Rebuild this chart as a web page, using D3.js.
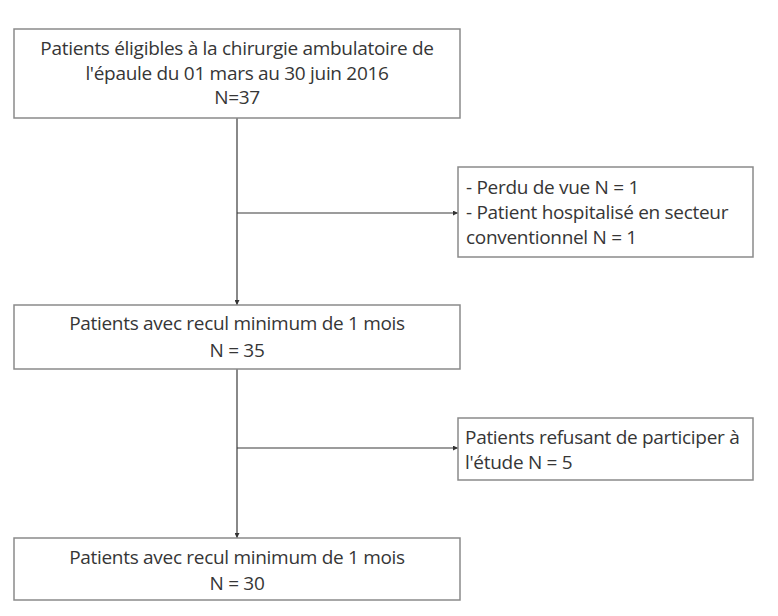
<!DOCTYPE html>
<html>
<head>
<meta charset="utf-8">
<script src="https://cdn.jsdelivr.net/npm/d3@7"></script>
<style>
  body { margin: 0; background: #fff; }
  svg text { font-family: "Open Sans", Lato, sans-serif; fill: #363636; }
</style>
</head>
<body>
<div id="root"></div>
<script>
// flow steps (main column)
const mainLabels = [
  ["Patients éligibles à la chirurgie ambulatoire de", "l'épaule du 01 mars au 30 juin 2016"],
  ["Patients avec recul minimum de 1 mois"],
  ["Patients avec recul minimum de 1 mois"]
]
const mainCounts = ["N=37", "N = 35", "N = 30"]

// exclusions (side boxes)
const sideLabels = [
  ["- Perdu de vue N = 1", "- Patient hospitalisé en secteur", "conventionnel N = 1"],
  ["Patients refusant de participer à", "l'étude N = 5"]
]

const w = 778
const h = 616

const mainBoxes = [
  {x0: 14, x1: 460, y0: 29, y1: 118, lines: [48, 73, 97]},
  {x0: 14, x1: 460, y0: 305, y1: 369, lines: [323, 350]},
  {x0: 14, x1: 460, y0: 538, y1: 600, lines: [557, 583]}
]
const sideBoxes = [
  {x0: 458, x1: 753, y0: 167, y1: 257, arrowY: 213, tx: 466, lines: [187, 212, 237]},
  {x0: 458, x1: 753, y0: 418, y1: 480, arrowY: 448, tx: 465, lines: [437, 462]}
]
const midX = 237

const svg = d3.select("#root")
    .append("svg")
    .attr("width", w)
    .attr("height", h)

svg.append("defs").append("marker")
    .attr("id", "arr")
    .attr("viewBox", "0 0 10 10")
    .attr("refX", 10)
    .attr("refY", 5)
    .attr("markerWidth", 5)
    .attr("markerHeight", 5)
    .attr("markerUnits", "userSpaceOnUse")
    .attr("orient", "auto")
  .append("path")
    .attr("d", "M0,0L10,5L0,10z")
    .attr("fill", "#333")

// connectors
const links = svg.append("g")
    .attr("stroke", "#3a3a3a")
    .attr("stroke-width", 1.2)
    .attr("fill", "none")

d3.range(mainBoxes.length - 1).forEach(i => {
    links.append("line")
        .attr("x1", midX).attr("x2", midX)
        .attr("y1", mainBoxes[i].y1).attr("y2", mainBoxes[i + 1].y0)
        .attr("marker-end", "url(#arr)")
})
sideBoxes.forEach(b => {
    links.append("line")
        .attr("x1", midX).attr("x2", b.x0)
        .attr("y1", b.arrowY).attr("y2", b.arrowY)
        .attr("marker-end", "url(#arr)")
})

// main boxes
const mg = svg.selectAll("g.main")
    .data(mainBoxes.map((b, i) => ({...b, text: mainLabels[i].concat([mainCounts[i]])})))
    .enter()
    .append("g")
    .attr("class", "main")

mg.append("rect")
    .attr("x", d => d.x0)
    .attr("y", d => d.y0)
    .attr("width", d => d.x1 - d.x0)
    .attr("height", d => d.y1 - d.y0)
    .attr("fill", "#fff")
    .attr("stroke", "#8a8a8a")
    .attr("stroke-width", 1.5)

mg.selectAll("text")
    .data(d => d.text.map((t, j) => ({t, x: (d.x0 + d.x1) / 2, y: d.lines[j]})))
    .enter()
    .append("text")
    .attr("x", d => d.x)
    .attr("y", d => d.y)
    .attr("dy", "0.35em")
    .attr("text-anchor", "middle")
    .style("font-size", "19px")
    .style("letter-spacing", "-0.3px")
    .text(d => d.t)

// side boxes
const sg = svg.selectAll("g.side")
    .data(sideBoxes.map((b, i) => ({...b, text: sideLabels[i]})))
    .enter()
    .append("g")
    .attr("class", "side")

sg.append("rect")
    .attr("x", d => d.x0)
    .attr("y", d => d.y0)
    .attr("width", d => d.x1 - d.x0)
    .attr("height", d => d.y1 - d.y0)
    .attr("fill", "#fff")
    .attr("stroke", "#8a8a8a")
    .attr("stroke-width", 1.5)

sg.selectAll("text")
    .data(d => d.text.map((t, j) => ({t, x: d.tx, y: d.lines[j]})))
    .enter()
    .append("text")
    .attr("x", d => d.x)
    .attr("y", d => d.y)
    .attr("dy", "0.35em")
    .style("font-size", "19px")
    .style("letter-spacing", "-0.3px")
    .text(d => d.t)
</script>
</body>
</html>
